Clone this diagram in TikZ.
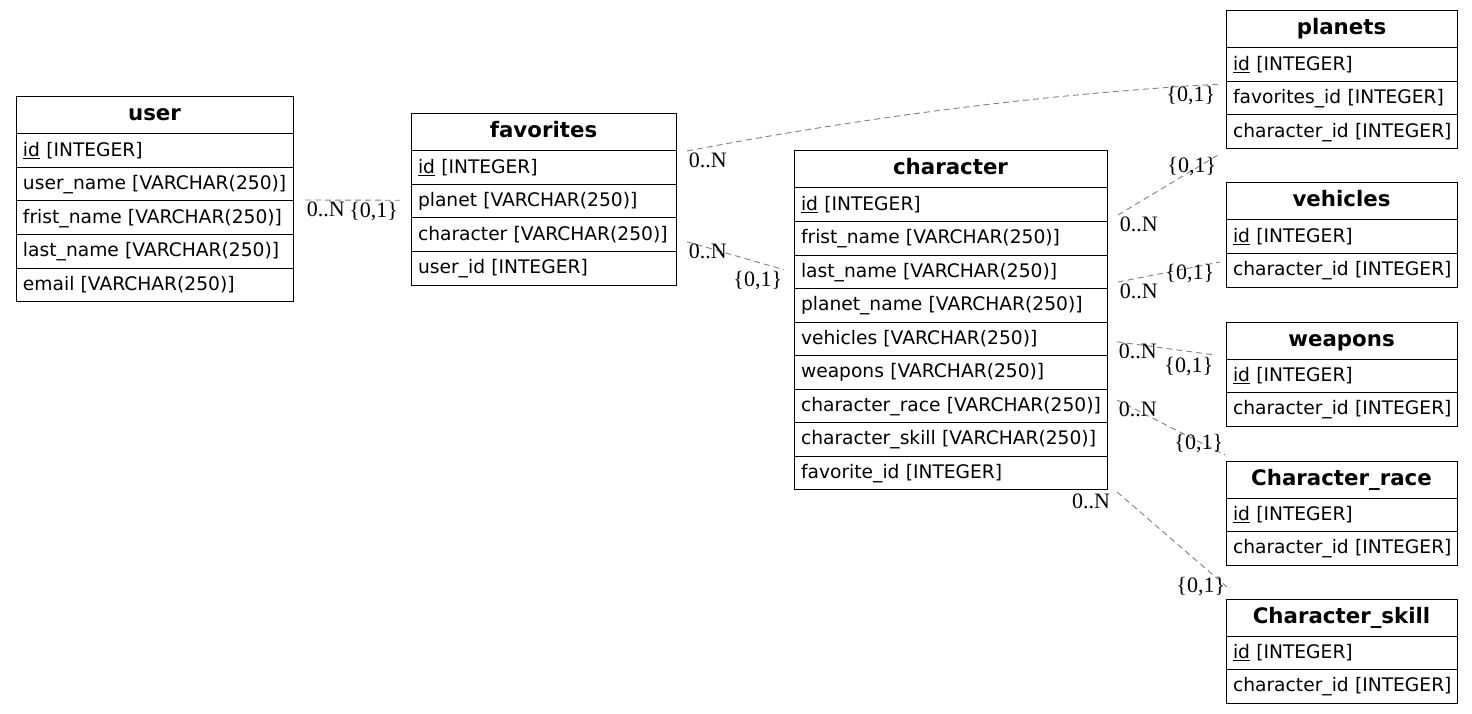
\documentclass[tikz,border=0pt]{standalone}
\usepackage{fontspec}
\setmainfont{DejaVu Sans}
\newfontfamily\cardfont{Liberation Serif}
\usetikzlibrary{positioning}
\definecolor{relgray}{RGB}{128,128,128}
\hyphenpenalty=10000
\exhyphenpenalty=10000

\tikzset{
  tblhead/.style={draw, anchor=north west, outer sep=0pt, inner xsep=7pt, inner ysep=0pt,
    text width=#1, align=center, minimum height=37pt, text height=15pt, text depth=4pt,
    font=\fontsize{21.33}{24}\selectfont\bfseries},
  tblrow/.style={draw, outer sep=0pt, inner xsep=7pt, inner ysep=0pt,
    text width=#1, align=left, minimum height=33.5pt, text height=15pt, text depth=4pt,
    font=\fontsize{18.67}{22}\selectfont},
  rel/.style={draw=relgray, dash pattern=on 6pt off 4pt, line width=0.9pt},
  card/.style={inner sep=1.5pt, font=\cardfont\fontsize{22}{24}\selectfont},
}

\begin{document}
\begin{tikzpicture}[x=1pt, y=-1pt, line width=1pt]
    \useasboundingbox (0,0) rectangle (1472,714);

    % user
    \node[tblhead=263pt] (user-h) at (16,97) {user};
    \node[tblrow=263pt, below=0pt of user-h] (user-id) {\underline{id}~[INTEGER]};
    \node[tblrow=263pt, below=0pt of user-id] (user-uname) {user\_name~[VARCHAR(250)]};
    \node[tblrow=263pt, below=0pt of user-uname] (user-fname) {frist\_name~[VARCHAR(250)]};
    \node[tblrow=263pt, below=0pt of user-fname] (user-lname) {last\_name~[VARCHAR(250)]};
    \node[tblrow=263pt, below=0pt of user-lname] (user-email) {email~[VARCHAR(250)]};

    % favorites
    \node[tblhead=251pt] (fav-h) at (411,114) {favorites};
    \node[tblrow=251pt, below=0pt of fav-h] (fav-id) {\underline{id}~[INTEGER]};
    \node[tblrow=251pt, below=0pt of fav-id] (fav-planet) {planet~[VARCHAR(250)]};
    \node[tblrow=251pt, below=0pt of fav-planet] (fav-char) {character~[VARCHAR(250)]};
    \node[tblrow=251pt, below=0pt of fav-char] (fav-uid) {user\_id~[INTEGER]};

    % character
    \node[tblhead=299pt] (chr-h) at (794,151) {character};
    \node[tblrow=299pt, below=0pt of chr-h] (chr-id) {\underline{id}~[INTEGER]};
    \node[tblrow=299pt, below=0pt of chr-id] (chr-fname) {frist\_name~[VARCHAR(250)]};
    \node[tblrow=299pt, below=0pt of chr-fname] (chr-lname) {last\_name~[VARCHAR(250)]};
    \node[tblrow=299pt, below=0pt of chr-lname] (chr-pname) {planet\_name~[VARCHAR(250)]};
    \node[tblrow=299pt, below=0pt of chr-pname] (chr-veh) {vehicles~[VARCHAR(250)]};
    \node[tblrow=299pt, below=0pt of chr-veh] (chr-weap) {weapons~[VARCHAR(250)]};
    \node[tblrow=299pt, below=0pt of chr-weap] (chr-race) {character\_race~[VARCHAR(250)]};
    \node[tblrow=299pt, below=0pt of chr-race] (chr-skill) {character\_skill~[VARCHAR(250)]};
    \node[tblrow=299pt, below=0pt of chr-skill] (chr-fav) {favorite\_id~[INTEGER]};

    % planets
    \node[tblhead=217pt] (pla-h) at (1226,11) {planets};
    \node[tblrow=217pt, below=0pt of pla-h] (pla-id) {\underline{id}~[INTEGER]};
    \node[tblrow=217pt, below=0pt of pla-id] (pla-fav) {favorites\_id~[INTEGER]};
    \node[tblrow=217pt, below=0pt of pla-fav] (pla-char) {character\_id~[INTEGER]};

    % vehicles
    \node[tblhead=217pt] (veh-h) at (1226,183) {vehicles};
    \node[tblrow=217pt, below=0pt of veh-h] (veh-id) {\underline{id}~[INTEGER]};
    \node[tblrow=217pt, below=0pt of veh-id] (veh-char) {character\_id~[INTEGER]};

    % weapons
    \node[tblhead=217pt] (wea-h) at (1226,322) {weapons};
    \node[tblrow=217pt, below=0pt of wea-h] (wea-id) {\underline{id}~[INTEGER]};
    \node[tblrow=217pt, below=0pt of wea-id] (wea-char) {character\_id~[INTEGER]};

    % Character_race
    \node[tblhead=217pt] (race-h) at (1226,461) {Character\_race};
    \node[tblrow=217pt, below=0pt of race-h] (race-id) {\underline{id}~[INTEGER]};
    \node[tblrow=217pt, below=0pt of race-id] (race-char) {character\_id~[INTEGER]};

    % Character_skill
    \node[tblhead=217pt] (skill-h) at (1226,599) {Character\_skill};
    \node[tblrow=217pt, below=0pt of skill-h] (skill-id) {\underline{id}~[INTEGER]};
    \node[tblrow=217pt, below=0pt of skill-id] (skill-char) {character\_id~[INTEGER]};

    % Relations
    \draw[rel] ([xshift=12pt, yshift=1pt]user-uname.south east)
        node[card, anchor=north west] {0..N}
        -- ([xshift=-11pt, yshift=1pt]fav-planet.west)
        node[card, anchor=north east] {\{0,1\}};
    \draw[rel] ([xshift=11pt]fav-h.south east)
        node[card, anchor=north west] {0..N}
        .. controls +(178,-34) and +(-178,10) .. ([xshift=-4pt, yshift=-2.5pt]pla-fav.north west)
        node[card, anchor=north east, xshift=-5pt] {\{0,1\}};
    \draw[rel] ([xshift=11pt, yshift=-7pt]fav-char.east)
        node[card, anchor=north west] {0..N}
        -- ([xshift=-10pt, yshift=2pt]chr-lname.west)
        node[card, anchor=north east] {\{0,1\}};
    \draw[rel] ([xshift=11pt, yshift=6.5pt]chr-id.south east)
        node[card, anchor=north west] {0..N}
        -- ([xshift=-8pt, yshift=-6.5pt]pla-char.south west)
        node[card, anchor=north east] {\{0,1\}};
    \draw[rel] ([xshift=11pt, yshift=6.5pt]chr-lname.south east)
        node[card, anchor=north west] {0..N}
        -- ([xshift=-6pt, yshift=-8.5pt]veh-char.north west)
        node[card, anchor=north east, xshift=-4pt] {\{0,1\}};
    \draw[rel] ([xshift=10pt, yshift=-3pt]chr-veh.east)
        node[card, anchor=north west] {0..N}
        -- ([xshift=-11pt, yshift=4pt]wea-h.south west)
        node[card, anchor=north east] {\{0,1\}};
    \draw[rel] ([xshift=10pt, yshift=-11pt]chr-race.north east)
        node[card, anchor=north west] {0..N}
        -- ([xshift=-1pt, yshift=6pt]race-h.north west)
        node[card, anchor=south east] {\{0,1\}};
    \draw[rel] ([xshift=10pt, yshift=-2.5pt]chr-fav.south east)
        node[card, anchor=north east, xshift=-5pt] {0..N}
        -- ([xshift=1pt, yshift=12pt]skill-h.north west)
        node[card, anchor=east] {\{0,1\}};
\end{tikzpicture}
\end{document}
